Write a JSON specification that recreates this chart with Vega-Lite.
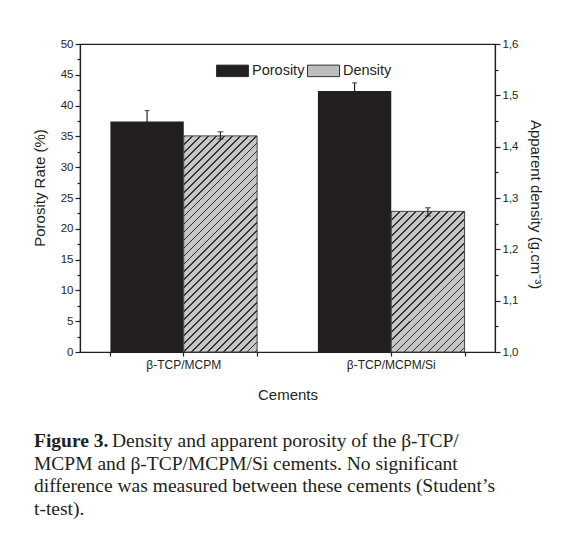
{
  "$schema": "https://vega.github.io/schema/vega-lite/v6.json",
  "width": 415,
  "height": 308,
  "autosize": {"type": "none"},
  "padding": {"left": 80, "top": 44, "right": 71, "bottom": 185},
  "background": "white",
  "config": {
    "view": {"stroke": "#231f20", "strokeWidth": 1.2},
    "font": "Liberation Sans",
    "axis": {
      "labelFont": "Liberation Sans", "titleFont": "Liberation Sans",
      "labelColor": "#231f20", "titleColor": "#231f20",
      "domainColor": "#231f20", "tickColor": "#231f20",
      "grid": false, "titleFontWeight": "normal",
      "labelFontSize": 11.5, "titleFontSize": 15,
      "domainWidth": 1.2, "tickWidth": 1.2
    }
  },
  "title": {
    "text": "Figure 3.",
    "subtitle": [
      "\u200b\u00a0\u00a0\u00a0\u00a0\u00a0\u00a0\u00a0\u00a0\u00a0\u00a0\u00a0\u00a0\u00a0\u00a0\u00a0\u00a0Density and apparent porosity of the β-TCP/",
      "MCPM and β-TCP/MCPM/Si cements. No significant",
      "difference was measured between these cements (Student’s",
      "t-test)."
    ],
    "orient": "bottom", "anchor": "start", "frame": "bounds", "offset": 30, "dx": 2,
    "font": "Liberation Serif", "fontSize": 19.5, "fontWeight": "bold", "color": "#231f20",
    "subtitleFont": "Liberation Serif", "subtitleFontSize": 19.5, "subtitleFontWeight": "normal",
    "subtitleColor": "#231f20", "subtitleLineHeight": 22.5, "subtitlePadding": -19.5
  },
  "datasets": {
    "cements": [
      {"cement": "β-TCP/MCPM", "series": "Porosity", "value": 37.4, "lo": 35.6, "hi": 39.2},
      {"cement": "β-TCP/MCPM/Si", "series": "Porosity", "value": 42.35, "lo": 41.0, "hi": 43.7},
      {"cement": "β-TCP/MCPM", "series": "Density", "value": 1.421, "lo": 1.415, "hi": 1.429},
      {"cement": "β-TCP/MCPM/Si", "series": "Density", "value": 1.274, "lo": 1.265, "hi": 1.281}
    ]
  },
  "data": {"name": "cements"},
  "encoding": {
    "x": {"field": "cement", "type": "nominal", "axis": null,
          "scale": {"paddingInner": 0.293, "paddingOuter": 0.1465}},
    "xOffset": {"field": "series", "type": "nominal",
                "scale": {"domain": ["Porosity", "Density"], "paddingInner": 0, "paddingOuter": 0}}
  },
  "layer": [
    {
      "transform": [{"filter": "datum.series === 'Porosity'"}],
      "layer": [
        {
          "mark": {"type": "rule", "color": "#231f20", "strokeWidth": 1.2},
          "encoding": {
            "x": {"field": "cement", "type": "nominal",
                  "axis": {"orient": "bottom", "tickBand": "extent", "labels": false, "domain": false, "title": null, "tickSize": 4}},
            "y": {"field": "lo", "type": "quantitative",
                  "scale": {"domain": [0, 50], "nice": false},
                  "axis": {"orient": "left", "values": [2.5, 7.5, 12.5, 17.5, 22.5, 27.5, 32.5, 37.5, 42.5, 47.5],
                           "labels": false, "domain": false, "title": null, "tickSize": 3}},
            "y2": {"field": "hi"}
          }
        },
        {
          "mark": {"type": "tick", "size": 5, "thickness": 1.2, "color": "#231f20"},
          "encoding": {"y": {"field": "hi", "type": "quantitative", "axis": null}}
        },
        {
          "mark": {"type": "bar"},
          "encoding": {
            "x": {"field": "cement", "type": "nominal",
                  "axis": {"orient": "bottom", "title": "Cements", "labelAngle": 0, "labelPadding": 3,
                           "labelFontSize": 12, "tickSize": 4, "titleY": 42, "titleBaseline": "middle"}},
            "y": {"field": "value", "type": "quantitative",
                  "axis": {"orient": "left", "values": [0, 5, 10, 15, 20, 25, 30, 35, 40, 45, 50],
                           "title": "Porosity Rate (%)", "tickSize": 5, "labelPadding": 2,
                           "titleX": -41, "titleY": 143.5, "titleBaseline": "middle", "titleAngle": -90}},
            "color": {
              "field": "series", "type": "nominal",
              "scale": {"domain": ["Porosity", "Density"], "range": ["#231f20", "#bdbdbd"]},
              "legend": {
                "orient": "none", "legendX": 136, "legendY": 10, "direction": "horizontal",
                "title": null, "padding": 0,
                "symbolType": "M-1,-0.36H1V0.36H-1Z", "symbolSize": 1024,
                "symbolStrokeColor": "#333333", "symbolStrokeWidth": 1, "symbolOpacity": 1,
                "labelFontSize": 14.5, "labelFont": "Liberation Sans", "labelColor": "#231f20",
                "labelOffset": 3, "columnPadding": 0
              }
            }
          }
        }
      ],
      "resolve": {"axis": {"x": "independent", "y": "independent"}}
    },
    {
      "transform": [{"filter": "datum.series === 'Density'"}],
      "layer": [
        {
          "transform": [{"filter": "datum.cement === 'β-TCP/MCPM'"}],
          "mark": {"type": "bar", "stroke": "#444444", "strokeWidth": 1,
            "fill": {"gradient": "linear", "x1": 0, "y1": 0, "x2": 0.4077, "y2": 1.2011, "stops": [
              {"offset": 0, "color": "#303030"}, {"offset": 0.006, "color": "#303030"}, {"offset": 0.006, "color": "#c6c6c6"},
              {"offset": 0.0275, "color": "#c6c6c6"}, {"offset": 0.0275, "color": "#303030"}, {"offset": 0.0335, "color": "#303030"}, {"offset": 0.0335, "color": "#c6c6c6"},
              {"offset": 0.055, "color": "#c6c6c6"}, {"offset": 0.055, "color": "#303030"}, {"offset": 0.061, "color": "#303030"}, {"offset": 0.061, "color": "#c6c6c6"},
              {"offset": 0.0825, "color": "#c6c6c6"}, {"offset": 0.0825, "color": "#303030"}, {"offset": 0.0885, "color": "#303030"}, {"offset": 0.0885, "color": "#c6c6c6"},
              {"offset": 0.11, "color": "#c6c6c6"}, {"offset": 0.11, "color": "#303030"}, {"offset": 0.116, "color": "#303030"}, {"offset": 0.116, "color": "#c6c6c6"},
              {"offset": 0.1375, "color": "#c6c6c6"}, {"offset": 0.1375, "color": "#303030"}, {"offset": 0.1435, "color": "#303030"}, {"offset": 0.1435, "color": "#c6c6c6"},
              {"offset": 0.165, "color": "#c6c6c6"}, {"offset": 0.165, "color": "#303030"}, {"offset": 0.171, "color": "#303030"}, {"offset": 0.171, "color": "#c6c6c6"},
              {"offset": 0.1925, "color": "#c6c6c6"}, {"offset": 0.1925, "color": "#303030"}, {"offset": 0.1985, "color": "#303030"}, {"offset": 0.1985, "color": "#c6c6c6"},
              {"offset": 0.22, "color": "#c6c6c6"}, {"offset": 0.22, "color": "#303030"}, {"offset": 0.226, "color": "#303030"}, {"offset": 0.226, "color": "#c6c6c6"},
              {"offset": 0.2475, "color": "#c6c6c6"}, {"offset": 0.2475, "color": "#303030"}, {"offset": 0.2535, "color": "#303030"}, {"offset": 0.2535, "color": "#c6c6c6"},
              {"offset": 0.275, "color": "#c6c6c6"}, {"offset": 0.275, "color": "#303030"}, {"offset": 0.281, "color": "#303030"}, {"offset": 0.281, "color": "#c6c6c6"},
              {"offset": 0.3025, "color": "#c6c6c6"}, {"offset": 0.3025, "color": "#303030"}, {"offset": 0.3085, "color": "#303030"}, {"offset": 0.3085, "color": "#c6c6c6"},
              {"offset": 0.33, "color": "#c6c6c6"}, {"offset": 0.33, "color": "#303030"}, {"offset": 0.336, "color": "#303030"}, {"offset": 0.336, "color": "#c6c6c6"},
              {"offset": 0.3575, "color": "#c6c6c6"}, {"offset": 0.3575, "color": "#303030"}, {"offset": 0.3635, "color": "#303030"}, {"offset": 0.3635, "color": "#c6c6c6"},
              {"offset": 0.385, "color": "#c6c6c6"}, {"offset": 0.385, "color": "#303030"}, {"offset": 0.391, "color": "#303030"}, {"offset": 0.391, "color": "#c6c6c6"},
              {"offset": 0.4125, "color": "#c6c6c6"}, {"offset": 0.4125, "color": "#303030"}, {"offset": 0.4185, "color": "#303030"}, {"offset": 0.4185, "color": "#c6c6c6"},
              {"offset": 0.44, "color": "#c6c6c6"}, {"offset": 0.44, "color": "#303030"}, {"offset": 0.446, "color": "#303030"}, {"offset": 0.446, "color": "#c6c6c6"},
              {"offset": 0.4675, "color": "#c6c6c6"}, {"offset": 0.4675, "color": "#303030"}, {"offset": 0.4735, "color": "#303030"}, {"offset": 0.4735, "color": "#c6c6c6"},
              {"offset": 0.495, "color": "#c6c6c6"}, {"offset": 0.495, "color": "#303030"}, {"offset": 0.501, "color": "#303030"}, {"offset": 0.501, "color": "#c6c6c6"},
              {"offset": 0.5225, "color": "#c6c6c6"}, {"offset": 0.5225, "color": "#303030"}, {"offset": 0.5285, "color": "#303030"}, {"offset": 0.5285, "color": "#c6c6c6"},
              {"offset": 0.55, "color": "#c6c6c6"}, {"offset": 0.55, "color": "#303030"}, {"offset": 0.556, "color": "#303030"}, {"offset": 0.556, "color": "#c6c6c6"},
              {"offset": 0.5775, "color": "#c6c6c6"}, {"offset": 0.5775, "color": "#303030"}, {"offset": 0.5835, "color": "#303030"}, {"offset": 0.5835, "color": "#c6c6c6"},
              {"offset": 0.605, "color": "#c6c6c6"}, {"offset": 0.605, "color": "#303030"}, {"offset": 0.611, "color": "#303030"}, {"offset": 0.611, "color": "#c6c6c6"},
              {"offset": 0.6325, "color": "#c6c6c6"}, {"offset": 0.6325, "color": "#303030"}, {"offset": 0.6385, "color": "#303030"}, {"offset": 0.6385, "color": "#c6c6c6"},
              {"offset": 0.66, "color": "#c6c6c6"}, {"offset": 0.66, "color": "#303030"}, {"offset": 0.666, "color": "#303030"}, {"offset": 0.666, "color": "#c6c6c6"},
              {"offset": 0.6875, "color": "#c6c6c6"}, {"offset": 0.6875, "color": "#303030"}, {"offset": 0.6935, "color": "#303030"}, {"offset": 0.6935, "color": "#c6c6c6"},
              {"offset": 0.715, "color": "#c6c6c6"}, {"offset": 0.715, "color": "#303030"}, {"offset": 0.721, "color": "#303030"}, {"offset": 0.721, "color": "#c6c6c6"},
              {"offset": 0.7425, "color": "#c6c6c6"}, {"offset": 0.7425, "color": "#303030"}, {"offset": 0.7485, "color": "#303030"}, {"offset": 0.7485, "color": "#c6c6c6"},
              {"offset": 0.77, "color": "#c6c6c6"}, {"offset": 0.77, "color": "#303030"}, {"offset": 0.776, "color": "#303030"}, {"offset": 0.776, "color": "#c6c6c6"},
              {"offset": 0.7975, "color": "#c6c6c6"}, {"offset": 0.7975, "color": "#303030"}, {"offset": 0.8035, "color": "#303030"}, {"offset": 0.8035, "color": "#c6c6c6"},
              {"offset": 0.825, "color": "#c6c6c6"}, {"offset": 0.825, "color": "#303030"}, {"offset": 0.831, "color": "#303030"}, {"offset": 0.831, "color": "#c6c6c6"},
              {"offset": 0.8525, "color": "#c6c6c6"}, {"offset": 0.8525, "color": "#303030"}, {"offset": 0.8585, "color": "#303030"}, {"offset": 0.8585, "color": "#c6c6c6"},
              {"offset": 0.88, "color": "#c6c6c6"}, {"offset": 0.88, "color": "#303030"}, {"offset": 0.886, "color": "#303030"}, {"offset": 0.886, "color": "#c6c6c6"},
              {"offset": 0.9075, "color": "#c6c6c6"}, {"offset": 0.9075, "color": "#303030"}, {"offset": 0.9135, "color": "#303030"}, {"offset": 0.9135, "color": "#c6c6c6"},
              {"offset": 0.935, "color": "#c6c6c6"}, {"offset": 0.935, "color": "#303030"}, {"offset": 0.941, "color": "#303030"}, {"offset": 0.941, "color": "#c6c6c6"},
              {"offset": 0.9625, "color": "#c6c6c6"}, {"offset": 0.9625, "color": "#303030"}, {"offset": 0.9685, "color": "#303030"}, {"offset": 0.9685, "color": "#c6c6c6"},
              {"offset": 0.99, "color": "#c6c6c6"}, {"offset": 0.99, "color": "#303030"}, {"offset": 0.996, "color": "#303030"}, {"offset": 0.996, "color": "#c6c6c6"}
            ]}},
          "encoding": {
            "y": {"field": "value", "type": "quantitative",
                  "scale": {"domain": [1, 1.6], "nice": false, "zero": false},
                  "axis": {"orient": "right", "values": [1, 1.1, 1.2, 1.3, 1.4, 1.5, 1.6],
                           "labelExpr": "replace(format(datum.value, '.1f'), '.', ',')",
                           "title": "Apparent density (g.cm⁻³)", "tickSize": 5, "labelPadding": 2,
                           "titleX": 40, "titleY": 160, "titleBaseline": "middle", "titleAngle": 90}},
            "y2": {"datum": 1}
          }
        },
        {
          "transform": [{"filter": "datum.cement === 'β-TCP/MCPM/Si'"}],
          "mark": {"type": "bar", "stroke": "#444444", "strokeWidth": 1,
            "fill": {"gradient": "linear", "x1": 0, "y1": 0, "x2": 0.6238, "y2": 1.1962, "stops": [
              {"offset": 0, "color": "#303030"}, {"offset": 0.008, "color": "#303030"}, {"offset": 0.008, "color": "#c6c6c6"},
              {"offset": 0.0375, "color": "#c6c6c6"}, {"offset": 0.0375, "color": "#303030"}, {"offset": 0.0455, "color": "#303030"}, {"offset": 0.0455, "color": "#c6c6c6"},
              {"offset": 0.075, "color": "#c6c6c6"}, {"offset": 0.075, "color": "#303030"}, {"offset": 0.083, "color": "#303030"}, {"offset": 0.083, "color": "#c6c6c6"},
              {"offset": 0.1125, "color": "#c6c6c6"}, {"offset": 0.1125, "color": "#303030"}, {"offset": 0.1205, "color": "#303030"}, {"offset": 0.1205, "color": "#c6c6c6"},
              {"offset": 0.15, "color": "#c6c6c6"}, {"offset": 0.15, "color": "#303030"}, {"offset": 0.158, "color": "#303030"}, {"offset": 0.158, "color": "#c6c6c6"},
              {"offset": 0.1875, "color": "#c6c6c6"}, {"offset": 0.1875, "color": "#303030"}, {"offset": 0.1955, "color": "#303030"}, {"offset": 0.1955, "color": "#c6c6c6"},
              {"offset": 0.225, "color": "#c6c6c6"}, {"offset": 0.225, "color": "#303030"}, {"offset": 0.233, "color": "#303030"}, {"offset": 0.233, "color": "#c6c6c6"},
              {"offset": 0.2625, "color": "#c6c6c6"}, {"offset": 0.2625, "color": "#303030"}, {"offset": 0.2705, "color": "#303030"}, {"offset": 0.2705, "color": "#c6c6c6"},
              {"offset": 0.3, "color": "#c6c6c6"}, {"offset": 0.3, "color": "#303030"}, {"offset": 0.308, "color": "#303030"}, {"offset": 0.308, "color": "#c6c6c6"},
              {"offset": 0.3375, "color": "#c6c6c6"}, {"offset": 0.3375, "color": "#303030"}, {"offset": 0.3455, "color": "#303030"}, {"offset": 0.3455, "color": "#c6c6c6"},
              {"offset": 0.375, "color": "#c6c6c6"}, {"offset": 0.375, "color": "#303030"}, {"offset": 0.383, "color": "#303030"}, {"offset": 0.383, "color": "#c6c6c6"},
              {"offset": 0.4125, "color": "#c6c6c6"}, {"offset": 0.4125, "color": "#303030"}, {"offset": 0.4205, "color": "#303030"}, {"offset": 0.4205, "color": "#c6c6c6"},
              {"offset": 0.45, "color": "#c6c6c6"}, {"offset": 0.45, "color": "#303030"}, {"offset": 0.458, "color": "#303030"}, {"offset": 0.458, "color": "#c6c6c6"},
              {"offset": 0.4875, "color": "#c6c6c6"}, {"offset": 0.4875, "color": "#303030"}, {"offset": 0.4955, "color": "#303030"}, {"offset": 0.4955, "color": "#c6c6c6"},
              {"offset": 0.525, "color": "#c6c6c6"}, {"offset": 0.525, "color": "#303030"}, {"offset": 0.533, "color": "#303030"}, {"offset": 0.533, "color": "#c6c6c6"},
              {"offset": 0.5625, "color": "#c6c6c6"}, {"offset": 0.5625, "color": "#303030"}, {"offset": 0.5705, "color": "#303030"}, {"offset": 0.5705, "color": "#c6c6c6"},
              {"offset": 0.6, "color": "#c6c6c6"}, {"offset": 0.6, "color": "#303030"}, {"offset": 0.608, "color": "#303030"}, {"offset": 0.608, "color": "#c6c6c6"},
              {"offset": 0.6375, "color": "#c6c6c6"}, {"offset": 0.6375, "color": "#303030"}, {"offset": 0.6455, "color": "#303030"}, {"offset": 0.6455, "color": "#c6c6c6"},
              {"offset": 0.675, "color": "#c6c6c6"}, {"offset": 0.675, "color": "#303030"}, {"offset": 0.683, "color": "#303030"}, {"offset": 0.683, "color": "#c6c6c6"},
              {"offset": 0.7125, "color": "#c6c6c6"}, {"offset": 0.7125, "color": "#303030"}, {"offset": 0.7205, "color": "#303030"}, {"offset": 0.7205, "color": "#c6c6c6"},
              {"offset": 0.75, "color": "#c6c6c6"}, {"offset": 0.75, "color": "#303030"}, {"offset": 0.758, "color": "#303030"}, {"offset": 0.758, "color": "#c6c6c6"},
              {"offset": 0.7875, "color": "#c6c6c6"}, {"offset": 0.7875, "color": "#303030"}, {"offset": 0.7955, "color": "#303030"}, {"offset": 0.7955, "color": "#c6c6c6"},
              {"offset": 0.825, "color": "#c6c6c6"}, {"offset": 0.825, "color": "#303030"}, {"offset": 0.833, "color": "#303030"}, {"offset": 0.833, "color": "#c6c6c6"},
              {"offset": 0.8625, "color": "#c6c6c6"}, {"offset": 0.8625, "color": "#303030"}, {"offset": 0.8705, "color": "#303030"}, {"offset": 0.8705, "color": "#c6c6c6"},
              {"offset": 0.9, "color": "#c6c6c6"}, {"offset": 0.9, "color": "#303030"}, {"offset": 0.908, "color": "#303030"}, {"offset": 0.908, "color": "#c6c6c6"},
              {"offset": 0.9375, "color": "#c6c6c6"}, {"offset": 0.9375, "color": "#303030"}, {"offset": 0.9455, "color": "#303030"}, {"offset": 0.9455, "color": "#c6c6c6"},
              {"offset": 0.975, "color": "#c6c6c6"}, {"offset": 0.975, "color": "#303030"}, {"offset": 0.983, "color": "#303030"}, {"offset": 0.983, "color": "#c6c6c6"}
            ]}},
          "encoding": {
            "y": {"field": "value", "type": "quantitative", "axis": null},
            "y2": {"datum": 1}
          }
        },
        {
          "mark": {"type": "rule", "color": "#231f20", "strokeWidth": 1.2},
          "encoding": {
            "y": {"field": "lo", "type": "quantitative",
                  "axis": {"orient": "right", "values": [1.05, 1.15, 1.25, 1.35, 1.45, 1.55],
                           "labels": false, "domain": false, "title": null, "tickSize": 3}},
            "y2": {"field": "hi"}
          }
        },
        {
          "mark": {"type": "tick", "size": 6, "thickness": 1.2, "color": "#231f20"},
          "encoding": {"y": {"field": "lo", "type": "quantitative", "axis": null}}
        },
        {
          "mark": {"type": "tick", "size": 6, "thickness": 1.2, "color": "#231f20"},
          "encoding": {"y": {"field": "hi", "type": "quantitative", "axis": null}}
        }
      ],
      "resolve": {"axis": {"y": "independent"}}
    }
  ],
  "resolve": {"scale": {"y": "independent"}}
}
